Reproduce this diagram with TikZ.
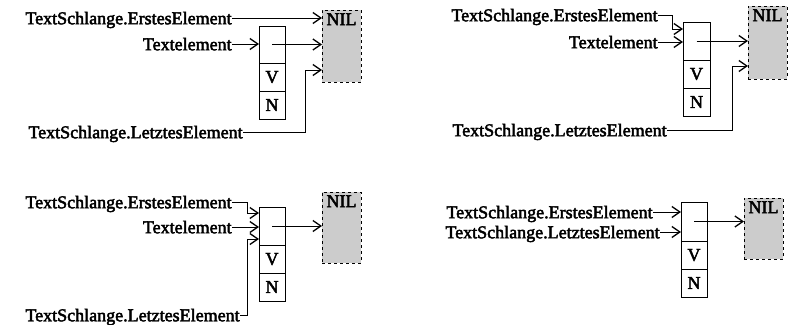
\documentclass[tikz,border=0pt]{standalone}
\usepackage{fontspec}
\setmainfont{Liberation Serif}[BoldFont={Liberation Serif}, BoldFeatures={FakeBold=2.5}]
\usetikzlibrary{arrows.meta,positioning}

\tikzset{
    lbl/.style={inner sep=0pt, anchor=east, text depth=0pt, font=\fontsize{18}{20}\selectfont\bfseries},
    cell/.style={draw, minimum width=26pt, minimum height=28pt, inner sep=0pt, outer sep=0pt,
                 font=\fontsize{18}{20}\selectfont\bfseries},
    nil/.style={draw, dashed, fill=gray!40, minimum width=39pt, inner sep=0pt, outer sep=0pt,
                label={[anchor=north, inner sep=3pt, font=\fontsize{18}{20}\selectfont\bfseries]north:NIL}},
    ptr/.style={-{Straight Barb[length=8pt,width=11pt,line width=1.3pt]}, line width=0.8pt}
}

\begin{document}
\begin{tikzpicture}[x=1pt, y=-1pt, line width=0.8pt]
    \useasboundingbox (0,0) rectangle (789,324);

    % First state
    \node[lbl] (erst1) at (232,18) {TextSchlange.ErstesElement};
    \node[lbl] (text1) at (232,44) {Textelement};
    \node[lbl] (letzt1) at (243,132) {TextSchlange.LetztesElement};
    \node[cell, minimum height=37pt] (a1) at (272,44.5) {};
    \node[cell, below=0pt of a1] (v1) {V};
    \node[cell, below=0pt of v1] (n1) {N};
    \node[nil, minimum height=72pt] (nil1) at (341.5,46) {};
    \coordinate (l1) at (305,70);
    \draw[ptr] (erst1.east) -- (erst1.east -| nil1.west);
    \draw[ptr] (text1.east) -- (text1.east -| a1.west);
    \draw[ptr] (a1.center) -- (a1.center -| nil1.west);
    \draw[ptr] (letzt1.east) -| (l1) -- (l1 -| nil1.west);

    % Second state
    \node[lbl] (erst2) at (658,15) {TextSchlange.ErstesElement};
    \node[lbl] (text2) at (658,42) {Textelement};
    \node[lbl] (letzt2) at (667,130) {TextSchlange.LetztesElement};
    \node[cell, minimum width=27pt, minimum height=38pt] (a2) at (696.5,41) {};
    \node[cell, minimum width=27pt, below=0pt of a2] (v2) {V};
    \node[cell, minimum width=27pt, below=0pt of v2] (n2) {N};
    \node[nil, minimum height=73pt] (nil2) at (767.5,42.5) {};
    \coordinate (e2) at (672,29);
    \coordinate (l2) at (732,66);
    \draw[ptr] (erst2.east) -| (e2) -- (e2 -| a2.west);
    \draw[ptr] (text2.east) -- (text2.east -| a2.west);
    \draw[ptr] (a2.center) -- (a2.center -| nil2.west);
    \draw[ptr] (letzt2.east) -| (l2) -- (l2 -| nil2.west);

    % Third state
    \node[lbl] (erst3) at (232,202) {TextSchlange.ErstesElement};
    \node[lbl] (text3) at (232,227) {Textelement};
    \node[lbl] (letzt3) at (240,315) {TextSchlange.LetztesElement};
    \node[cell, minimum height=38pt] (a3) at (272,226) {};
    \node[cell, below=0pt of a3] (v3) {V};
    \node[cell, below=0pt of v3] (n3) {N};
    \node[nil, minimum height=71pt] (nil3) at (341.5,227.5) {};
    \coordinate (e3) at (247,213);
    \coordinate (l3) at (247,239);
    \draw[ptr] (erst3.east) -| (e3) -- (e3 -| a3.west);
    \draw[ptr] (text3.east) -- (text3.east -| a3.west);
    \draw[ptr] (letzt3.east) -| (l3) -- (l3 -| a3.west);
    \draw[ptr] (a3.center) -- (a3.center -| nil3.west);

    % Fourth state
    \node[lbl] (erst4) at (653,212) {TextSchlange.ErstesElement};
    \node[lbl] (letzt4) at (660,232) {TextSchlange.LetztesElement};
    \node[cell, minimum height=39pt] (a4) at (694,221.5) {};
    \node[cell, below=0pt of a4] (v4) {V};
    \node[cell, below=0pt of v4] (n4) {N};
    \node[nil, minimum height=61pt] (nil4) at (763.5,228.5) {};
    \draw[ptr] (erst4.east) -- (erst4.east -| a4.west);
    \draw[ptr] (letzt4.east) -- (letzt4.east -| a4.west);
    \draw[ptr] (a4.center) -- (a4.center -| nil4.west);
\end{tikzpicture}
\end{document}
